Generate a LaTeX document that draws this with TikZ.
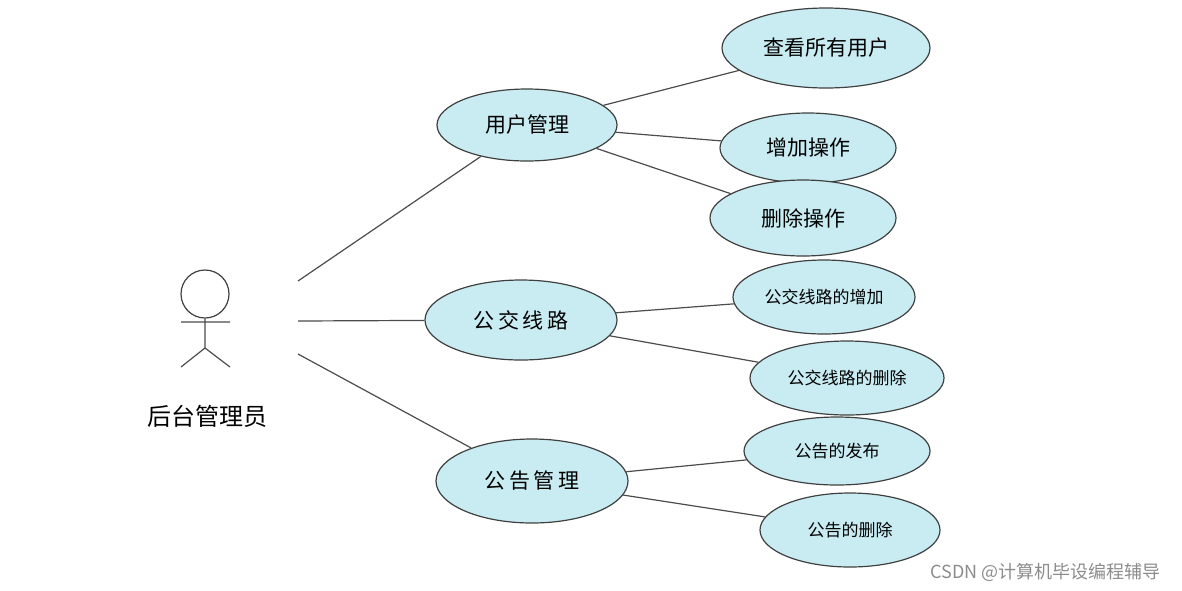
\documentclass[tikz,border=0pt]{standalone}
\usepackage{fontspec}
\setmainfont{Noto Sans CJK SC}
\usetikzlibrary{shapes.geometric}
\definecolor{uc}{RGB}{200,236,242}
\begin{document}
\begin{tikzpicture}[x=0.5pt,y=-0.5pt,
  uc/.style={ellipse,draw=black!75,fill=uc,line width=0.6pt,inner sep=0pt},
  ln/.style={draw=black!70,line width=0.6pt}]
\useasboundingbox (0,0) rectangle (1182,590);
\def\E#1#2#3#4#5#6#7{\node[uc,minimum width=#4,minimum height=#5] (#1) at (#2,#3) {\fontsize{#6}{#6}\selectfont #7};}
\E{v0}{826}{48}{104pt}{40pt}{10.5}{查看所有用户}
\E{um}{527}{125}{90pt}{36pt}{10.5}{用户管理}
\E{v1}{808}{148}{88pt}{35pt}{10.5}{增加操作}
\E{v2}{803}{218}{93pt}{38pt}{10.5}{删除操作}
\E{bl}{521}{320}{96pt}{40pt}{10.5}{公\,交\,线\,路}
\E{b1}{824}{297}{91pt}{37pt}{8.5}{公交线路的增加}
\E{b2}{847}{378}{97pt}{37pt}{8.5}{公交线路的删除}
\E{gg}{532}{481}{96pt}{42pt}{10.5}{公\,告\,管\,理}
\E{g1}{837}{451}{93pt}{34pt}{8.5}{公告的发布}
\E{g2}{850}{530}{90pt}{37pt}{8.5}{公告的删除}
% actor
\node[circle,draw=black!75,line width=0.6pt,minimum size=24pt,inner sep=0pt] (head) at (205,294) {};
\coordinate (hip) at (205,348);
\coordinate (la) at (181,322); \coordinate (ra) at (230,322);
\coordinate (ll) at (181,367); \coordinate (rl) at (230,367);
\draw[ln] (head.south) -- (hip) (la) -- (ra) (ll) -- (hip) -- (rl);
\node (lab) at (207,416) {\fontsize{12}{12}\selectfont 后台管理员};
\coordinate (a1) at (298,281); \coordinate (a2) at (298,321); \coordinate (a3) at (298,354);
\draw[ln] (a1) -- (um) (a2) -- (bl) (a3) -- (gg);
\draw[ln] (um) -- (v0) (um) -- (v1) (um) -- (v2);
\draw[ln] (bl) -- (b1) (bl) -- (b2);
\draw[ln] (gg) -- (g1) (gg) -- (g2);
\node[text=black!45,anchor=east] (wm) at (1168,572) {\fontsize{9}{9}\selectfont CSDN @计算机毕设编程辅导};
\end{tikzpicture}
\end{document}
